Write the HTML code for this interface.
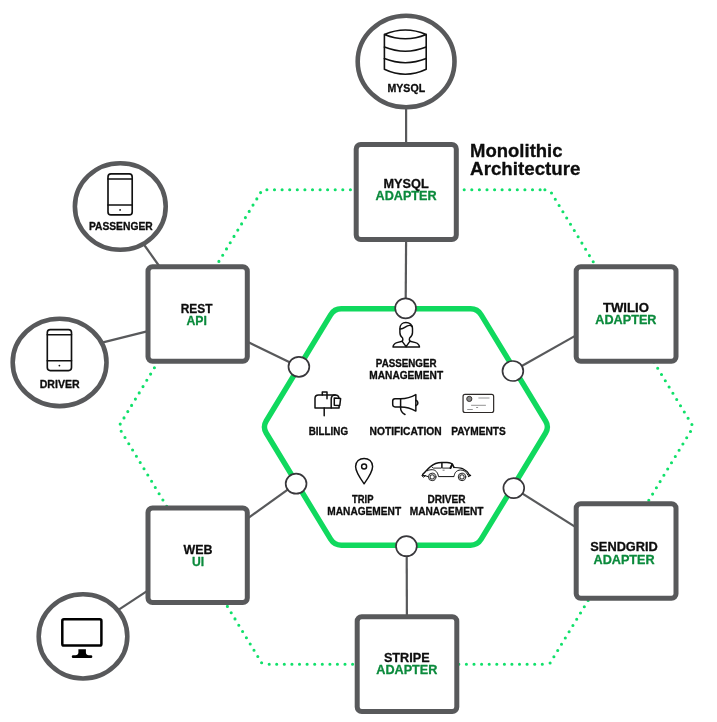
<!DOCTYPE html>
<html lang="en"><head><meta charset="utf-8"><title>Monolithic Architecture</title>
<style>html,body{margin:0;padding:0;background:#fff}body{width:717px;height:722px;overflow:hidden}svg{display:block;will-change:transform}text{font-family:"Liberation Sans",Arial,Helvetica,sans-serif;font-weight:700;stroke-width:.3px;stroke-linejoin:round}text.k{stroke:#0d0d0d}text.g{stroke:#0b8a3c}</style></head><body>
<svg width="717" height="722" viewBox="0 0 717 722">
<rect width="717" height="722" fill="#fff"/>
<path d="M266.9,189.7h.01M274.5,189.7h.01M282.1,189.7h.01M289.7,189.7h.01M297.3,189.7h.01M304.9,189.7h.01M312.5,189.7h.01M320.1,189.7h.01M327.6,189.7h.01M335.2,189.7h.01M342.8,189.7h.01M350.4,189.7h.01M358.0,189.7h.01M365.6,189.7h.01M373.2,189.7h.01M380.7,189.7h.01M388.3,189.7h.01M395.9,189.7h.01M403.5,189.7h.01M411.1,189.7h.01M418.7,189.7h.01M426.3,189.7h.01M433.9,189.7h.01M441.4,189.7h.01M449.0,189.7h.01M456.6,189.7h.01M464.2,189.7h.01M471.8,189.7h.01M479.4,189.7h.01M487.0,189.7h.01M494.6,189.7h.01M502.1,189.7h.01M509.7,189.7h.01M517.3,189.7h.01M524.9,189.7h.01M532.5,189.7h.01M540.1,189.7h.01M544.9,189.7h.01M551.5,193.0h.01M555.3,199.3h.01M559.1,205.5h.01M562.9,211.8h.01M566.7,218.0h.01M570.5,224.3h.01M574.3,230.5h.01M578.1,236.8h.01M581.9,243.1h.01M585.6,249.3h.01M589.4,255.6h.01M593.2,261.8h.01M597.0,268.1h.01M600.8,274.4h.01M604.6,280.6h.01M608.4,286.9h.01M612.2,293.1h.01M616.0,299.4h.01M619.8,305.6h.01M623.6,311.9h.01M627.4,318.2h.01M631.2,324.4h.01M635.0,330.7h.01M638.8,336.9h.01M642.6,343.2h.01M646.4,349.4h.01M650.1,355.7h.01M653.9,362.0h.01M657.7,368.2h.01M661.5,374.5h.01M665.3,380.7h.01M669.1,387.0h.01M672.9,393.3h.01M676.7,399.5h.01M680.5,405.8h.01M684.3,412.0h.01M688.1,418.3h.01M691.9,424.5h.01M690.5,431.5h.01M686.7,437.8h.01M682.9,444.0h.01M679.1,450.3h.01M675.3,456.5h.01M671.5,462.8h.01M667.7,469.0h.01M663.9,475.3h.01M660.1,481.6h.01M656.4,487.8h.01M652.6,494.1h.01M648.8,500.3h.01M645.0,506.6h.01M641.2,512.9h.01M637.4,519.1h.01M633.6,525.4h.01M629.8,531.6h.01M626.0,537.9h.01M622.2,544.1h.01M618.4,550.4h.01M614.6,556.7h.01M610.8,562.9h.01M607.0,569.2h.01M603.2,575.4h.01M599.4,581.7h.01M595.6,588.0h.01M591.9,594.2h.01M588.1,600.5h.01M584.3,606.7h.01M580.5,613.0h.01M576.7,619.2h.01M572.9,625.5h.01M569.1,631.8h.01M565.3,638.0h.01M561.5,644.3h.01M557.7,650.5h.01M553.9,656.8h.01M550.1,663.0h.01M269.2,664.3h.01M276.7,664.3h.01M284.3,664.3h.01M291.9,664.3h.01M299.5,664.3h.01M307.1,664.3h.01M314.7,664.3h.01M322.3,664.3h.01M329.9,664.3h.01M337.4,664.3h.01M345.0,664.3h.01M352.6,664.3h.01M360.2,664.3h.01M367.8,664.3h.01M375.4,664.3h.01M383.0,664.3h.01M390.6,664.3h.01M398.1,664.3h.01M405.7,664.3h.01M413.3,664.3h.01M420.9,664.3h.01M428.5,664.3h.01M436.1,664.3h.01M443.7,664.3h.01M451.2,664.3h.01M458.8,664.3h.01M466.4,664.3h.01M474.0,664.3h.01M481.6,664.3h.01M489.2,664.3h.01M496.8,664.3h.01M504.4,664.3h.01M511.9,664.3h.01M519.5,664.3h.01M527.1,664.3h.01M534.7,664.3h.01M542.3,664.3h.01M121.2,431.2h.01M125.0,437.5h.01M128.8,443.7h.01M132.6,450.0h.01M136.4,456.2h.01M140.2,462.5h.01M144.0,468.7h.01M147.8,475.0h.01M151.6,481.3h.01M155.3,487.5h.01M159.1,493.8h.01M162.9,500.0h.01M166.7,506.3h.01M170.5,512.6h.01M174.3,518.8h.01M178.1,525.1h.01M181.9,531.3h.01M185.7,537.6h.01M189.5,543.8h.01M193.3,550.1h.01M197.1,556.4h.01M200.9,562.6h.01M204.7,568.9h.01M208.5,575.1h.01M212.3,581.4h.01M216.1,587.6h.01M219.8,593.9h.01M223.6,600.2h.01M227.4,606.4h.01M231.2,612.7h.01M235.0,618.9h.01M238.8,625.2h.01M242.6,631.5h.01M246.4,637.7h.01M250.2,644.0h.01M254.0,650.2h.01M257.8,656.5h.01M261.6,662.7h.01M260.6,192.6h.01M256.8,198.9h.01M253.0,205.1h.01M249.2,211.4h.01M245.4,217.6h.01M241.6,223.9h.01M237.8,230.1h.01M234.0,236.4h.01M230.2,242.7h.01M226.5,248.9h.01M222.7,255.2h.01M218.9,261.4h.01M215.1,267.7h.01M211.3,274.0h.01M207.5,280.2h.01M203.7,286.5h.01M199.9,292.7h.01M196.1,299.0h.01M192.3,305.2h.01M188.5,311.5h.01M184.7,317.8h.01M180.9,324.0h.01M177.1,330.3h.01M173.3,336.5h.01M169.5,342.8h.01M165.8,349.0h.01M162.0,355.3h.01M158.2,361.6h.01M154.4,367.8h.01M150.6,374.1h.01M146.8,380.3h.01M143.0,386.6h.01M139.2,392.9h.01M135.4,399.1h.01M131.6,405.4h.01M127.8,411.6h.01M124.0,417.9h.01M120.2,424.1h.01" fill="none" stroke="#10e06a" stroke-width="3.1" stroke-linecap="round"/>
<path d="M330.62,314.79 Q334.25,308.80 341.25,308.80 L470.55,308.80 Q477.55,308.80 481.18,314.79 L545.58,421.01 Q549.21,427.00 545.58,432.99 L481.18,539.21 Q477.55,545.20 470.55,545.20 L341.25,545.20 Q334.25,545.20 330.62,539.21 L266.22,432.99 Q262.59,427.00 266.22,421.01 Z" fill="none" stroke="#10d95e" stroke-width="5.4" stroke-linejoin="round"/>
<line x1="406.1" y1="100" x2="406.1" y2="150" stroke="#58595b" stroke-width="2.2"/>
<line x1="406.1" y1="240" x2="405.7" y2="300" stroke="#58595b" stroke-width="2.2"/>
<line x1="406.7" y1="553" x2="406.9" y2="620" stroke="#58595b" stroke-width="2.2"/>
<line x1="140" y1="239" x2="162" y2="270" stroke="#58595b" stroke-width="2.2"/>
<line x1="100" y1="343.1" x2="150" y2="330.6" stroke="#58595b" stroke-width="2.2"/>
<line x1="245" y1="340.6" x2="298.9" y2="366.8" stroke="#58595b" stroke-width="2.2"/>
<line x1="580" y1="333.1" x2="512.9" y2="371.0" stroke="#58595b" stroke-width="2.2"/>
<line x1="245" y1="520.3" x2="296.1" y2="483.7" stroke="#58595b" stroke-width="2.2"/>
<line x1="115" y1="612.2" x2="150" y2="589.2" stroke="#58595b" stroke-width="2.2"/>
<line x1="580" y1="529.9" x2="513.8" y2="488.1" stroke="#58595b" stroke-width="2.2"/>
<rect x="356.20" y="144.50" width="100.10" height="95.10" rx="4.5" ry="4.5" fill="#fff" stroke="#58595b" stroke-width="5"/>
<text x="406.1" y="188.2" font-size="12.8" text-anchor="middle" class="k" fill="#0d0d0d" textLength="45.2" lengthAdjust="spacingAndGlyphs">MYSQL</text>
<text x="406.1" y="200.3" font-size="12.8" text-anchor="middle" class="g" fill="#0b8a3c" textLength="61.1" lengthAdjust="spacingAndGlyphs">ADAPTER</text>
<rect x="148.00" y="266.70" width="99.30" height="94.60" rx="4.5" ry="4.5" fill="#fff" stroke="#58595b" stroke-width="5"/>
<text x="196.6" y="313.2" font-size="12.8" text-anchor="middle" class="k" fill="#0d0d0d" textLength="31.8" lengthAdjust="spacingAndGlyphs">REST</text>
<text x="196.6" y="325.3" font-size="12.8" text-anchor="middle" class="g" fill="#0b8a3c" textLength="20.4" lengthAdjust="spacingAndGlyphs">API</text>
<rect x="576.20" y="266.70" width="99.80" height="94.60" rx="4.5" ry="4.5" fill="#fff" stroke="#58595b" stroke-width="5"/>
<text x="625.9" y="311.9" font-size="12.8" text-anchor="middle" class="k" fill="#0d0d0d" textLength="46" lengthAdjust="spacingAndGlyphs">TWILIO</text>
<text x="625.9" y="324.1" font-size="12.8" text-anchor="middle" class="g" fill="#0b8a3c" textLength="61.1" lengthAdjust="spacingAndGlyphs">ADAPTER</text>
<rect x="148.00" y="507.90" width="99.30" height="94.60" rx="4.5" ry="4.5" fill="#fff" stroke="#58595b" stroke-width="5"/>
<text x="198.0" y="553.9" font-size="12.8" text-anchor="middle" class="k" fill="#0d0d0d" textLength="29" lengthAdjust="spacingAndGlyphs">WEB</text>
<text x="198.0" y="566.1" font-size="12.8" text-anchor="middle" class="g" fill="#0b8a3c" textLength="12.2" lengthAdjust="spacingAndGlyphs">UI</text>
<rect x="576.20" y="503.70" width="99.80" height="94.60" rx="4.5" ry="4.5" fill="#fff" stroke="#58595b" stroke-width="5"/>
<text x="624.1" y="551.1" font-size="12.8" text-anchor="middle" class="k" fill="#0d0d0d" textLength="67.5" lengthAdjust="spacingAndGlyphs">SENDGRID</text>
<text x="624.1" y="563.5" font-size="12.8" text-anchor="middle" class="g" fill="#0b8a3c" textLength="61.1" lengthAdjust="spacingAndGlyphs">ADAPTER</text>
<rect x="357.20" y="616.70" width="99.60" height="94.90" rx="4.5" ry="4.5" fill="#fff" stroke="#58595b" stroke-width="5"/>
<text x="406.8" y="661.7" font-size="12.8" text-anchor="middle" class="k" fill="#0d0d0d" textLength="45.7" lengthAdjust="spacingAndGlyphs">STRIPE</text>
<text x="406.8" y="674" font-size="12.8" text-anchor="middle" class="g" fill="#0b8a3c" textLength="61.1" lengthAdjust="spacingAndGlyphs">ADAPTER</text>
<ellipse cx="405.6" cy="308.3" rx="10.4" ry="10" fill="#fff" stroke="#38373b" stroke-width="1.7"/>
<ellipse cx="298.9" cy="366.8" rx="10.4" ry="10" fill="#fff" stroke="#38373b" stroke-width="1.7"/>
<ellipse cx="512.9" cy="371.0" rx="10.4" ry="10" fill="#fff" stroke="#38373b" stroke-width="1.7"/>
<ellipse cx="296.1" cy="483.7" rx="10.4" ry="10" fill="#fff" stroke="#38373b" stroke-width="1.7"/>
<ellipse cx="513.8" cy="488.1" rx="10.4" ry="10" fill="#fff" stroke="#38373b" stroke-width="1.7"/>
<ellipse cx="406.4" cy="546.2" rx="10.4" ry="10" fill="#fff" stroke="#38373b" stroke-width="1.7"/>
<ellipse cx="406.10" cy="61.50" rx="48.40" ry="45.80" fill="#fff" stroke="#58595b" stroke-width="4.6"/>
<ellipse cx="120.30" cy="206.50" rx="45.40" ry="43.30" fill="#fff" stroke="#58595b" stroke-width="4.6"/>
<ellipse cx="59.60" cy="362.40" rx="46.90" ry="43.70" fill="#fff" stroke="#58595b" stroke-width="4.6"/>
<ellipse cx="83.00" cy="636.40" rx="44.30" ry="42.10" fill="#fff" stroke="#58595b" stroke-width="4.6"/>
<text x="406.3" y="92.0" font-size="10.3" text-anchor="middle" class="k" fill="#0d0d0d" textLength="37.6" lengthAdjust="spacingAndGlyphs">MYSQL</text>
<text x="120.8" y="230.3" font-size="10.3" text-anchor="middle" class="k" fill="#0d0d0d" textLength="63.8" lengthAdjust="spacingAndGlyphs">PASSENGER</text>
<text x="59.65" y="387.6" font-size="10.3" text-anchor="middle" class="k" fill="#0d0d0d" textLength="39.8" lengthAdjust="spacingAndGlyphs">DRIVER</text>
<text x="470.1" y="156.8" font-size="18.2" class="k" fill="#0d0d0d" textLength="92.4" lengthAdjust="spacingAndGlyphs">Monolithic</text>
<text x="470.1" y="175.2" font-size="18.2" class="k" fill="#0d0d0d" textLength="110.4" lengthAdjust="spacingAndGlyphs">Architecture</text>
<text x="406.2" y="367.2" font-size="10" text-anchor="middle" class="k" fill="#0d0d0d" textLength="60.7" lengthAdjust="spacingAndGlyphs">PASSENGER</text>
<text x="406.2" y="379.3" font-size="10" text-anchor="middle" class="k" fill="#0d0d0d" textLength="73.8" lengthAdjust="spacingAndGlyphs">MANAGEMENT</text>
<text x="328.4" y="434.7" font-size="10" text-anchor="middle" class="k" fill="#0d0d0d" textLength="39.3" lengthAdjust="spacingAndGlyphs">BILLING</text>
<text x="405.6" y="434.7" font-size="10" text-anchor="middle" class="k" fill="#0d0d0d" textLength="72.0" lengthAdjust="spacingAndGlyphs">NOTIFICATION</text>
<text x="478.5" y="434.9" font-size="10" text-anchor="middle" class="k" fill="#0d0d0d" textLength="54.6" lengthAdjust="spacingAndGlyphs">PAYMENTS</text>
<text x="362.8" y="503.2" font-size="10" text-anchor="middle" class="k" fill="#0d0d0d" textLength="21.4" lengthAdjust="spacingAndGlyphs">TRIP</text>
<text x="364.2" y="514.8" font-size="10" text-anchor="middle" class="k" fill="#0d0d0d" textLength="73.8" lengthAdjust="spacingAndGlyphs">MANAGEMENT</text>
<text x="446.5" y="503.2" font-size="10" text-anchor="middle" class="k" fill="#0d0d0d" textLength="38.1" lengthAdjust="spacingAndGlyphs">DRIVER</text>
<text x="446.6" y="514.8" font-size="10" text-anchor="middle" class="k" fill="#0d0d0d" textLength="73.8" lengthAdjust="spacingAndGlyphs">MANAGEMENT</text>
<g fill="none" stroke="#111" stroke-width="1.6" stroke-linecap="round" stroke-linejoin="round"><path d="M384.4,34.4 Q405.3,25.5 426.2,34.4 Q405.3,43 384.4,34.4 V69.3 Q405.3,79.3 426.2,69.3 V34.4"/><path d="M384.4,47.1 Q405.3,55.5 426.2,47.1"/><path d="M384.4,58.6 Q405.3,66.9 426.2,58.6"/></g>
<g transform="translate(0,0)" fill="none" stroke="#111" stroke-width="1.65" stroke-linecap="round" stroke-linejoin="round"><rect x="108" y="173.9" width="24.2" height="41" rx="3" ry="3"/><path d="M108,179 H132.2 M108,205 H132.2"/><circle cx="120.1" cy="209.9" r="0.9" fill="#111" stroke="none"/></g>
<g transform="translate(-60.7,155.7)" fill="none" stroke="#111" stroke-width="1.65" stroke-linecap="round" stroke-linejoin="round"><rect x="108" y="173.9" width="24.2" height="41" rx="3" ry="3"/><path d="M108,179 H132.2 M108,205 H132.2"/><circle cx="120.1" cy="209.9" r="0.9" fill="#111" stroke="none"/></g>
<rect x="62.3" y="619.3" width="39.1" height="26.3" rx="1.6" ry="1.6" fill="none" stroke="#000" stroke-width="2.5"/>
<path d="M78.4,649.2 H85.9 V652.6 Q86.1,655.3 88.8,655.3 H91 a1.35,1.35 0 0 1 0,2.7 H73.1 a1.35,1.35 0 0 1 0,-2.7 H75.5 Q78.2,655.3 78.4,652.6 Z" fill="#000"/>
<g fill="none" stroke="#111" stroke-width="1.45" stroke-linecap="round" stroke-linejoin="round"><path d="M405.9,322.5 C402.3,322.5 399.9,324.9 399.9,328.5 V332.5 C399.9,335 401,336.8 402.6,338 C403,339 402.8,340.5 402.2,341.3 L397,342.6 C394.5,343.4 393.2,345 393,347 H419.5 C419.3,345 418,343.4 415.5,342.6 L410,341.2 C409.4,340.4 409.2,339 409.6,338 C411.2,336.8 412.5,335 412.5,332.5 V328.5 C412.5,324.9 409.5,322.5 405.9,322.5 Z"/><path d="M400.2,329 C403,329.3 405,327 407.5,325.8 C409,325.2 410.8,325.4 411.8,326.2"/><path d="M402.2,341.3 L406.1,346.7 L410,341.2"/></g>
<g fill="none" stroke="#111" stroke-width="1.5" stroke-linecap="round" stroke-linejoin="round"><path d="M315,408 V398.3 Q315,394.9 318.5,394.9 H335.2 Q339.1,394.9 339.1,399 V408 Z"/><path d="M331.2,408 V399 Q331.2,394.9 335.2,394.9"/><path d="M334.3,398.1 L340.6,398.6 L339.8,405.4 L334.3,405.2 Z" fill="#fff"/><path d="M322.3,394.9 V391.9 H327 V398.7"/><path d="M324.2,408 V415.7"/></g>
<g fill="none" stroke="#111" stroke-width="1.5" stroke-linecap="round" stroke-linejoin="round"><path d="M400.6,398.7 H395 Q392.7,398.7 392.7,401 V404.6 Q392.7,406.9 395,406.9 H400.6"/><path d="M400.6,398.7 C406,398.7 411,397.5 415.85,394.65 V411.1 C411,408.2 406,406.9 400.6,406.9"/><path d="M400.6,398.7 V408 C400.6,411 402.5,413.2 405,414.5"/><path d="M415.85,400.2 A2.8,2.8 0 0 1 415.85,405.6"/></g>
<g><rect x="463.05" y="394.45" width="30.6" height="18.05" rx="2" ry="2" fill="#fff" stroke="#2e2a28" stroke-width="1.2"/><circle cx="469.3" cy="398.9" r="2.6" fill="#8a8a8a" stroke="#2e2a28" stroke-width="0.9"/><path d="M478.4,398 H489.5 M471.1,405.3 H485.9 M476.1,407.5 H478.1 M467.2,409.5 H472.8" stroke="#777" stroke-width="0.8" fill="none"/></g>
<g fill="none" stroke="#111" stroke-width="1.45" stroke-linecap="round" stroke-linejoin="round"><path d="M364.1,483.8 C360,478 355.6,472 355.6,466.5 C355.6,461.5 359.5,458.4 364.1,458.4 C368.7,458.4 372.6,461.5 372.6,466.5 C372.6,472 368.2,478 364.1,483.8 Z"/><circle cx="364.1" cy="466.4" r="2.5"/></g>
<g fill="none" stroke="#111" stroke-width="1.0" stroke-linecap="round" stroke-linejoin="round"><path d="M422.7,474.5 C426,471 428.5,468.3 430.6,466.5 C433.5,463.8 436.5,462.4 441.8,462.4 H447 C450,462.4 451.8,463.2 452.6,464.6 L454,467.4" stroke-width="1.55"/><path d="M454,467.5 C456.5,467.6 458.8,467.7 460.7,468.1 C462.2,468.5 463.2,468.9 464.1,469.4 C465.3,470.1 466.2,470.8 467,471.5 C468,472.5 468.6,473.4 469.1,474.4 L470.6,475.4" stroke-width="1.1"/><path d="M427.4,470.7 C429,469.9 430.5,469.7 432.2,469.7 C435.5,469.7 437.9,472.5 438.5,476.6 H454 C454.3,474.8 454.7,473.7 455.3,472.7 C456.5,470.9 458.4,470 460.7,470 C463.8,470 466.5,471.8 467.8,474.8"/><path d="M422.2,475.4 L425.6,475.7 L423.6,477 Z M425.6,475.8 L428,476.6" stroke-width="1"/><path d="M467.6,474.7 L470.6,475.5 L468.4,476.6" stroke-width="1.1"/><circle cx="432.2" cy="476.9" r="3.75" fill="#fff" stroke="#222"/><circle cx="432.2" cy="476.9" r="2.15" stroke="#3a3a3a" stroke-width="1.1"/><circle cx="462" cy="476.9" r="3.75" fill="#fff" stroke="#222"/><circle cx="462" cy="476.9" r="2.15" stroke="#3a3a3a" stroke-width="1.1"/><path d="M431.9,467 L433.4,468.1 H441.2" stroke-width="0.9"/><path d="M441.9,463 V468.1" stroke-width="1.5" stroke-linecap="butt"/><path d="M442.6,468.1 H450.3" stroke-width="0.9"/><path d="M452.2,464.4 L450.5,468" stroke-width="2"/><path d="M443,470.2 H444.2" stroke="#555" stroke-width="0.8"/></g>
</svg></body></html>
